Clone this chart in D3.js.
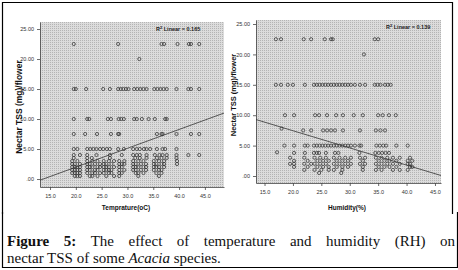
<!DOCTYPE html>
<html>
<meta charset="utf-8">
<style>
  body { margin: 0; background: #fff; }
  svg { display: block; }
</style>

<body>
  <svg></svg>
</body>

<script src="https://d3js.org/d3.v7.min.js"></script>

<script>

  // ---- data ----
  var xTicks = [15, 20, 25, 30, 35, 40, 45];
  var tssTicks = [0, 5, 10, 15, 20, 25];

  // temperature panel: [tss level, temperatures seen at that level]
  var tempRows = [
    [22.5, [19.6, 28.2, 36.6, 37.1, 39.7, 41.9, 42.3, 43.9]],
    [20, [32.3]],
    [15, [19.6, 20.0, 22.0, 25.3, 26.6, 28.2, 28.7, 29.2, 29.7, 30.2, 31.3, 31.9, 32.5, 33.1, 33.7,
          35.2, 35.8, 36.4, 37.0, 37.6, 39.5, 41.8, 42.3, 43.9]],
    [10, [19.6, 22.2, 22.6, 26.2, 26.8, 28.3, 28.8, 29.3, 31.3, 31.8, 32.8, 34.1, 35.3, 37.3, 37.6]],
    [7.5, [19.6, 21.8, 24.1, 26.8, 28.2, 28.4, 35.7, 36.6, 36.8, 39.5, 42.3, 43.9]],
    [5, [19.6, 20.3, 22.2, 22.8, 23.4, 24.0, 24.7, 25.3, 26.0, 26.6, 28.2, 29.3, 31.1, 31.8, 32.4,
         33.2, 33.7, 34.4, 35.7, 36.8, 37.3, 39.5]],
    [4, [19.6, 20.8, 22.2, 24.0, 26.6, 28.9, 31.1, 31.8, 32.4, 33.7, 35.3, 36.2, 36.8, 37.6, 39.5, 41.8, 43.9]],
    [3.5, [19.6, 22.2, 23.1, 26.6, 31.5, 32.4, 33.7, 35.7, 36.6, 37.6, 39.5]],
    [3, [19.3, 20.3, 22.2, 23.2, 24.2, 25.4, 26.4, 27.4, 28.4, 29.4, 31.1, 32.1, 33.1, 35.1, 36.1, 37.1, 39.6]],
    [2.5, [19.3, 19.8, 20.8, 22.2, 22.7, 23.7, 24.7, 25.4, 25.9, 26.9, 28.4, 28.9, 29.4, 31.1, 31.6, 32.6,
           33.6, 35.1, 35.6, 36.6, 37.1, 39.6]],
    [2, [19.3, 19.8, 20.3, 20.8, 22.2, 22.7, 23.2, 24.2, 24.7, 25.4, 25.9, 26.4, 27.4, 28.4, 28.9, 31.1,
         31.6, 32.1, 33.1, 33.6, 35.1, 35.6, 36.1, 37.1]],
    [1.5, [19.3, 19.8, 20.3, 20.8, 22.2, 22.7, 23.7, 24.2, 25.4, 25.9, 26.4, 26.9, 28.4, 29.4, 31.1,
           31.6, 32.6, 33.6, 35.1, 36.1, 36.6]],
    [1, [19.3, 19.8, 20.3, 20.8, 22.2, 23.2, 23.7, 24.7, 25.4, 26.4, 26.9, 28.4, 28.9, 31.6, 32.1, 33.1, 35.6, 36.6]],
    [0.5, [19.8, 20.3, 20.8, 22.7, 23.2, 24.2, 25.9, 27.4, 28.4, 32.1, 36.1]]
  ];

  // humidity panel: [tss level, humidities seen at that level]
  var humRows = [
    [22.5, [17.0, 17.9, 21.9, 23.2, 25.6, 26.7, 27.0, 34.4, 35.0]],
    [20, [32.5]],
    [15, [17.0, 17.9, 19.1, 20.0, 22.1, 23.7, 24.2, 24.7, 25.2, 25.7, 26.2, 26.7, 27.2, 27.7, 28.2,
          28.7, 29.2, 29.7, 30.2, 30.9, 31.8, 32.7, 34.4, 34.9, 35.4, 36.2, 36.7, 37.2]],
    [10, [18.6, 20.2, 23.9, 24.6, 26.0, 27.6, 28.8, 30.7, 32.3, 35.0, 35.8, 36.9, 38.1]],
    [7.8, [18.0]],
    [7.5, [21.8, 23.2, 25.3, 26.0, 26.7, 27.4, 28.8, 31.8, 34.6, 35.4, 36.2]],
    [5, [18.5, 20.2, 22.1, 22.6, 23.7, 24.2, 24.7, 25.2, 25.7, 26.2, 26.7, 27.2, 27.7, 28.2, 28.7,
         29.2, 29.7, 30.2, 30.9, 31.7, 32.0, 34.7, 35.3, 35.9, 36.4, 38.2, 40.2]],
    [3.9, [17.2]],
    [3.8, [20.2, 22.1, 23.7, 24.2, 24.6, 25.8, 27.4, 28.0, 31.7, 34.5, 35.1, 35.7, 36.3, 36.9]],
    [3, [19.5, 22.0, 23.8, 24.8, 25.8, 27.2, 28.2, 29.2, 30.2, 31.8, 32.7, 34.6, 35.6, 36.6, 37.6, 38.8, 40.6]],
    [2.5, [20.2, 22.6, 24.3, 25.3, 26.3, 27.7, 28.7, 29.7, 32.3, 35.1, 36.1, 37.0, 38.2, 40.2, 41.0]],
    [2, [19.5, 20.2, 22.0, 23.2, 23.8, 24.8, 25.8, 27.2, 28.2, 29.2, 30.2, 31.8, 32.7, 34.6, 35.6, 36.6,
         37.6, 38.8, 40.2, 40.6]],
    [1.5, [20.2, 22.6, 24.3, 25.3, 26.3, 27.7, 28.7, 29.7, 32.3, 35.1, 36.1, 37.0, 38.2, 40.6, 41.0]],
    [1, [22.0, 23.8, 25.0, 26.3, 27.2, 28.7, 32.3, 34.6, 35.6, 37.6, 38.8, 40.2]],
    [0.5, [24.6, 28.5]]
  ];

  // fitted lines [intercept, slope] and r squared
  var tempFit = [-4.3, 0.314];
  var humFit = [13.1, -0.2826];
  var r2Values = ["0.165", "0.139"];

  // ---- layout ----
  var W = 458, H = 270;
  var sans = "'Liberation Sans', Arial, sans-serif";
  var svg = d3.select("svg").attr("width", W).attr("height", H).attr("font-family", sans);

  svg.append("rect").attr("width", W).attr("height", H).attr("fill", "#fff");

  // dotted grey plot background
  var defs = svg.append("defs");
  var pat = defs.append("pattern").attr("id", "dots")
    .attr("width", 2).attr("height", 2).attr("patternUnits", "userSpaceOnUse");
  pat.append("rect").attr("width", 2).attr("height", 2).attr("fill", "#dcdcdc");
  pat.append("rect").attr("width", 1).attr("height", 1).attr("fill", "#b4b4b4");

  var panels = [
    { id: "p1", left: 40, right: 224, top: 22, bottom: 187, xDom: [13.06, 48.7], yDom: [-1.33, 26.17],
      rows: tempRows, fit: tempFit, r2: r2Values[0], xTitle: "Temprature(oC)",
      yTitleX: 19, yTitleY: 107, yTitleSize: 8.5, xTitleX: 126, xTitleY: 210, r2X: 156 },
    { id: "p2", left: 256, right: 441, top: 20, bottom: 183, xDom: [13.5, 46.06], yDom: [-1.15, 25.66],
      rows: humRows, fit: humFit, r2: r2Values[1], xTitle: "Humidity(%)",
      yTitleX: 233, yTitleY: 95, yTitleSize: 7.5, xTitleX: 347, xTitleY: 210, r2X: 386 }
  ];

  var fmtY = function(d) { var s = d3.format(".2f")(d); return s.replace(/^0\./, "."); };

  panels.forEach(function(p) {
    var x = d3.scaleLinear().domain(p.xDom).range([p.left, p.right]);
    var y = d3.scaleLinear().domain(p.yDom).range([p.bottom, p.top]);
    var g = svg.append("g");

    defs.append("clipPath").attr("id", "clip-" + p.id)
      .append("rect").attr("x", p.left).attr("y", p.top)
      .attr("width", p.right - p.left).attr("height", p.bottom - p.top);

    g.append("rect")
      .attr("x", p.left).attr("y", p.top)
      .attr("width", p.right - p.left).attr("height", p.bottom - p.top)
      .attr("fill", "url(#dots)");

    // axes
    var ax = g.append("g").attr("transform", "translate(0," + p.bottom + ")")
      .call(d3.axisBottom(x).tickValues(xTicks).tickFormat(d3.format(".1f")).tickSize(3).tickSizeOuter(0));
    var ay = g.append("g").attr("transform", "translate(" + p.left + ",0)")
      .call(d3.axisLeft(y).tickValues(tssTicks).tickFormat(fmtY).tickSize(3).tickSizeOuter(0));
    [ax, ay].forEach(function(a) {
      a.select(".domain").attr("stroke", "#444").attr("stroke-width", 0.8);
      a.selectAll(".tick line").attr("stroke", "#444").attr("stroke-width", 0.8);
      a.selectAll(".tick text").attr("font-size", 5.5).attr("fill", "#333")
        .attr("font-family", "'Liberation Sans Narrow', 'Liberation Sans', Arial, sans-serif");
    });
    ax.selectAll(".tick text").attr("dy", "0.9em");

    // points
    var pts = p.rows.flatMap(function(r) { return r[1].map(function(v) { return [v, r[0]]; }); });
    g.append("g").selectAll("circle").data(pts).enter().append("circle")
      .attr("cx", function(d) { return x(d[0]); })
      .attr("cy", function(d) { return y(d[1]); })
      .attr("r", 1.6)
      .attr("fill", "none")
      .attr("stroke", "#333")
      .attr("stroke-width", 0.75);

    // fit line
    g.append("line")
      .attr("clip-path", "url(#clip-" + p.id + ")")
      .attr("x1", x(p.xDom[0])).attr("y1", y(p.fit[0] + p.fit[1] * p.xDom[0]))
      .attr("x2", x(p.xDom[1])).attr("y2", y(p.fit[0] + p.fit[1] * p.xDom[1]))
      .attr("stroke", "#333").attr("stroke-width", 0.8);

    // r squared label
    var r2 = g.append("text").attr("x", p.r2X).attr("y", p.top + 9)
      .attr("font-size", 5.5).attr("font-weight", "bold").attr("fill", "#222");
    r2.append("tspan").text("R");
    r2.append("tspan").attr("dy", -2).attr("font-size", 4).text("2");
    r2.append("tspan").attr("dy", 2).text(" Linear = " + p.r2);

    // axis titles
    g.append("text")
      .attr("transform", "translate(" + p.yTitleX + "," + p.yTitleY + ") rotate(-90)")
      .attr("text-anchor", "middle").attr("dy", "0.35em")
      .attr("font-size", p.yTitleSize).attr("font-weight", "bold").attr("fill", "#111")
      .text("Nectar TSS (mg)/flower");
    g.append("text")
      .attr("x", p.xTitleX).attr("y", p.xTitleY)
      .attr("text-anchor", "middle")
      .attr("font-size", 6.5).attr("font-weight", "bold").attr("fill", "#111")
      .text(p.xTitle);
  });

  // frames
  var frame = svg.append("g").attr("fill", "none").attr("stroke", "#000").attr("stroke-width", 1.2);
  frame.append("path").attr("d", "M2.5,214 V2.5 H452.5 V214");
  frame.append("path").attr("d", "M2.5,212 V267.5 H457.5 V212");

  // caption
  var cap = svg.append("g").attr("font-family", "'Liberation Serif', 'Times New Roman', serif")
    .attr("font-size", 15).attr("fill", "#111");
  var words1 = [["Figure", true], ["5:", true], ["The", false], ["effect", false], ["of", false],
                ["temperature", false], ["and", false], ["humidity", false], ["(RH)", false], ["on", false]];
  var tmp = cap.selectAll(".w1").data(words1).enter().append("text").attr("class", "w1")
    .attr("y", 246).attr("font-weight", function(d) { return d[1] ? "bold" : null; })
    .text(function(d) { return d[0]; });
  var widths = tmp.nodes().map(function(n) { return n.getComputedTextLength(); });
  var lineL = 7, lineR = 455;
  var gap = (lineR - lineL - d3.sum(widths)) / (words1.length - 1);
  var cx = lineL;
  tmp.each(function(d, i) { d3.select(this).attr("x", cx); cx += widths[i] + gap; });

  var l2 = cap.append("text").attr("x", lineL).attr("y", 263);
  l2.append("tspan").text("nectar TSS of some ");
  l2.append("tspan").attr("font-style", "italic").text("Acacia");
  l2.append("tspan").text(" species.");

</script>

</html>
